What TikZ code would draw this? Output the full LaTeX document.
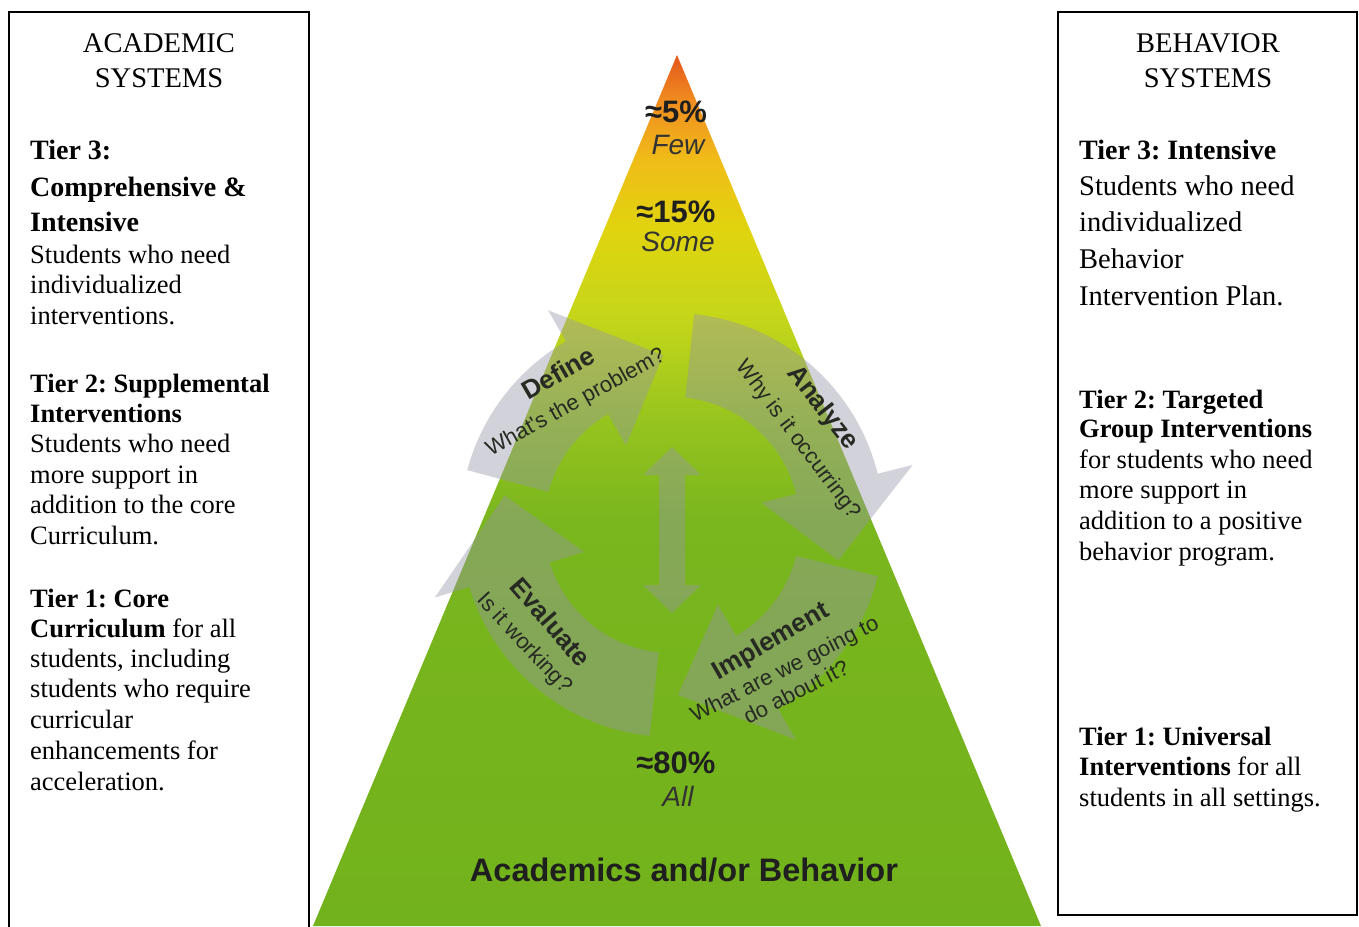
\documentclass[tikz,border=0pt]{standalone}
\usepackage{fontspec}
\setmainfont{Liberation Serif}
\newfontfamily\arialf{Liberation Sans}
\definecolor{r1}{RGB}{228,86,28}
\definecolor{o2}{RGB}{240,140,32}
\definecolor{o1}{RGB}{240,188,24}
\definecolor{y1}{RGB}{224,212,14}
\definecolor{g2}{RGB}{196,214,26}
\definecolor{g3}{RGB}{150,196,30}
\definecolor{g4}{RGB}{122,182,30}
\definecolor{g5}{RGB}{114,178,28}
\definecolor{cycgray}{RGB}{150,150,168}
\definecolor{cyctext}{RGB}{38,42,34}
\pgfdeclareverticalshading{pyrshade}{100bp}{color(0bp)=(g5); color(25bp)=(g5); color(48.3bp)=(g4); color(54bp)=(g3); color(59.8bp)=(g2); color(65bp)=(y1); color(69bp)=(o1); color(72.4bp)=(o2); color(75bp)=(r1); color(100bp)=(r1)}
\begin{document}
\frenchspacing
\begin{tikzpicture}[x=1pt,y=-1pt,
  boxline/.style={line width=1.8pt, draw=black},
  lt/.style={anchor=base west, inner sep=0pt, font=\fontsize{26.5}{30}\selectfont\frenchspacing},
  pal/.style={anchor=base west, inner sep=0pt, font=\fontsize{28.5}{34}\selectfont\frenchspacing},
  palb/.style={anchor=base west, inner sep=0pt, font=\fontsize{28}{34}\selectfont\bfseries\frenchspacing},
  hdr/.style={anchor=base, inner sep=0pt, font=\fontsize{28.5}{34}\selectfont},
  cyc/.style={fill=cycgray, fill opacity=0.42},
  ctitle/.style={inner sep=0pt, text=cyctext, font=\arialf\bfseries\fontsize{26}{30}\selectfont},
  cq/.style={inner sep=0pt, text=cyctext, font=\arialf\fontsize{22}{26}\selectfont},
  pct/.style={inner sep=0pt, text=black!88, font=\arialf\bfseries\fontsize{31}{34}\selectfont},
  pword/.style={inner sep=0pt, text=black!80, font=\arialf\itshape\fontsize{28}{30}\selectfont}]
\useasboundingbox (0,0) rectangle (1359,926);
\fill[white] (0,0) rectangle (1359,926);

% pyramid
\shade[shading=pyrshade] (677,55) -- (1041,926) -- (313,926) -- cycle;

% cycle arrows
\begin{scope}[shift={(672,525)}]
\fill[cyc]
  (195:212) arc[start angle=195,end angle=240,radius=212] -- (240:248) -- (267:170) -- (240:92) -- (240:128) arc[start angle=240,end angle=195,radius=128] -- cycle
  (276:212) arc[start angle=276,end angle=346,radius=212] -- (346:248) -- (372:170) -- (346:92) -- (346:128) arc[start angle=346,end angle=276,radius=128] -- cycle
  (14:212) arc[start angle=14,end angle=60,radius=212] -- (60:248) -- (88:170) -- (60:92) -- (60:128) arc[start angle=60,end angle=14,radius=128] -- cycle
  (96:212) arc[start angle=96,end angle=163,radius=212] -- (163:248) -- (190:170) -- (163:92) -- (163:128) arc[start angle=163,end angle=96,radius=128] -- cycle;
\fill[cyc] (0,-78) -- (29,-50) -- (13,-50) -- (13,60) -- (29,60) -- (0,88) -- (-29,60) -- (-13,60) -- (-13,-50) -- (-29,-50) -- cycle;
\end{scope}

% cycle texts
\node[ctitle, rotate=30] (def) at (558,373) {Define};
\node[cq, rotate=29] (defq) at (576,403) {What's the problem?};
\node[ctitle, rotate=-52] (ana) at (822,408) {Analyze};
\node[cq, rotate=-53] (anaq) at (798,440) {Why is it occurring?};
\node[ctitle, rotate=-49] (eva) at (551,622) {Evaluate};
\node[cq, rotate=-47] (evaq) at (524,644) {Is it working?};
\node[ctitle, rotate=30] (imp) at (771,642) {Implement};
\node[cq, rotate=27, align=center] (impq) at (790,680) {What are we going to\\do about it?};

% pyramid labels
\node[pct] (p5) at (676,112) {≈5\%};
\node[pword] (few) at (678,145) {Few};
\node[pct] (p15) at (676,212) {≈15\%};
\node[pword] (some) at (678,242) {Some};
\node[pct] (p80) at (676,763) {≈80\%};
\node[pword] (all) at (678,796) {All};
\node[pct, font=\arialf\bfseries\fontsize{32.5}{34}\selectfont] (ab) at (684,870) {Academics and/or Behavior};

% left box
\draw[boxline] (9,940) -- (9,12) -- (309,12) -- (309,940);
\node[hdr] (lh1) at (159,52) {ACADEMIC};
\node[hdr] (lh2) at (159,87) {SYSTEMS};
\foreach \yy/\txt [count=\i] in {159/{Tier 3:}, 196/{Comprehensive \&}, 231/{Intensive}}
  \node[palb] (lb\i) at (30,\yy) {\txt};
\foreach \yy/\txt [count=\i] in {263/{Students who need}, 293.5/{individualized}, 324/{interventions.},
  392/{\textbf{Tier 2: Supplemental}}, 422/{\textbf{Interventions}}, 452/{Students who need},
  483/{more support in}, 513/{addition to the core}, 544/{Curriculum.},
  607/{\textbf{Tier 1: Core}}, 637/{\textbf{Curriculum} for all}, 667/{students, including},
  697/{students who require}, 728/{curricular}, 759/{enhancements for}, 790/{acceleration.}}
  \node[lt] (ll\i) at (30,\yy) {\txt};

% right box
\draw[boxline] (1058,12) rectangle (1357,915);
\node[hdr] (rh1) at (1208,52) {BEHAVIOR};
\node[hdr] (rh2) at (1208,87) {SYSTEMS};
\node[palb] (rb1) at (1079,159) {Tier 3: Intensive};
\foreach \yy/\txt [count=\i] in {195/{Students who need}, 231.5/{individualized}, 268/{Behavior}, 305/{Intervention Plan.}}
  \node[pal] (rp\i) at (1079,\yy) {\txt};
\foreach \yy/\txt [count=\i] in {408/{\textbf{Tier 2: Targeted}}, 437/{\textbf{Group Interventions}},
  468/{for students who need}, 498/{more support in}, 529/{addition to a positive}, 560/{behavior program.},
  745/{\textbf{Tier 1: Universal}}, 775/{\textbf{Interventions} for all}, 806/{students in all settings.}}
  \node[lt] (rl\i) at (1079,\yy) {\txt};
\end{tikzpicture}
\end{document}
